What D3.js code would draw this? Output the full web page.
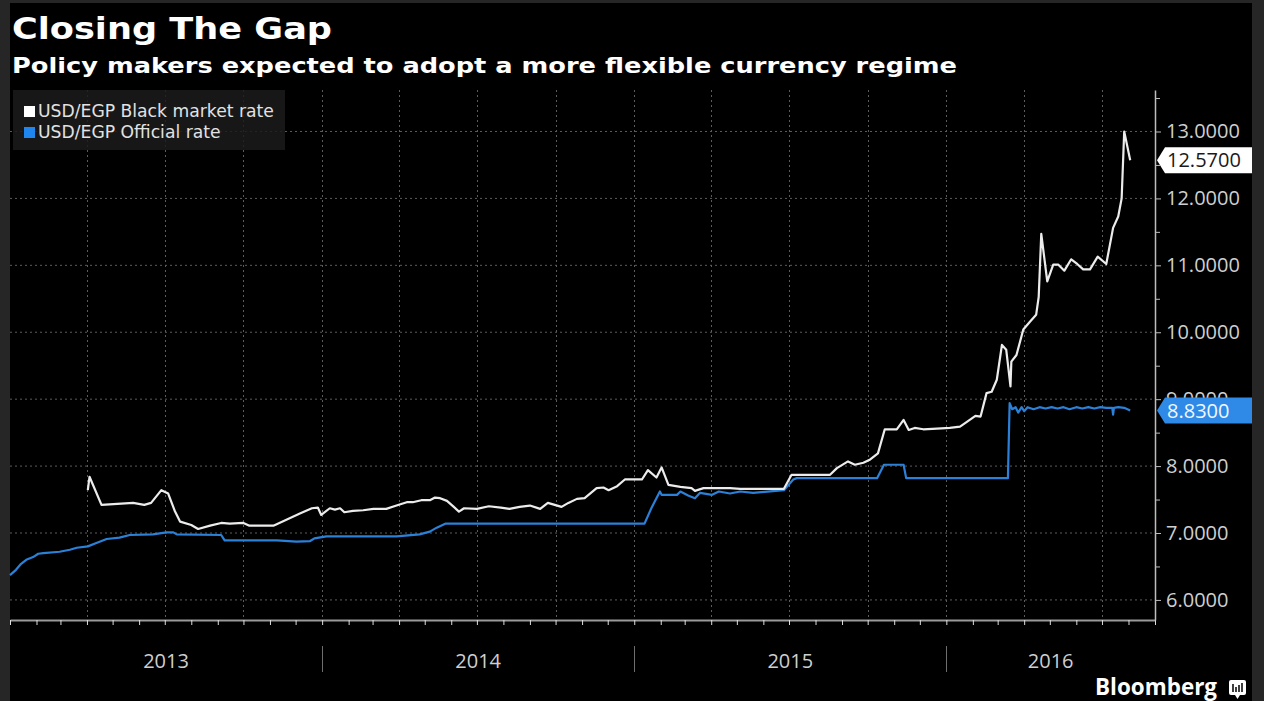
<!DOCTYPE html>
<html>
<head>
<meta charset="utf-8">
<script src="https://cdn.jsdelivr.net/npm/d3@7"></script>
<style>
  html, body { margin: 0; padding: 0; background: #262626; }
  svg { display: block; }
</style>
</head>
<body>
<svg id="chart" width="1264" height="701"></svg>
<script>
// ---------------- DATA ----------------
const blackDates = ["2013-04-02","2013-04-04","2013-04-18","2013-05-25","2013-06-07","2013-06-15","2013-06-27","2013-07-05","2013-07-13","2013-07-19","2013-08-01","2013-08-09","2013-08-23","2013-09-05","2013-09-15","2013-10-01","2013-10-08","2013-11-05","2013-11-12","2013-12-06","2013-12-20","2013-12-27","2013-12-31","2014-01-10","2014-01-16","2014-01-22","2014-01-27","2014-02-06","2014-02-18","2014-03-02","2014-03-17","2014-03-29","2014-04-10","2014-04-17","2014-04-27","2014-05-07","2014-05-13","2014-05-19","2014-05-27","2014-06-04","2014-06-10","2014-06-16","2014-07-01","2014-07-15","2014-07-29","2014-08-08","2014-08-20","2014-09-01","2014-09-13","2014-09-22","2014-09-30","2014-10-08","2014-10-16","2014-10-26","2014-11-04","2014-11-18","2014-11-26","2014-12-02","2014-12-12","2014-12-21","2015-01-10","2015-01-17","2015-01-27","2015-02-02","2015-02-10","2015-02-24","2015-03-09","2015-03-13","2015-03-23","2015-04-23","2015-05-05","2015-06-25","2015-07-04","2015-08-18","2015-08-26","2015-09-08","2015-09-16","2015-09-26","2015-10-04","2015-10-13","2015-10-21","2015-11-04","2015-11-12","2015-11-18","2015-11-25","2015-12-05","2015-12-21","2016-01-05","2016-01-17","2016-01-25","2016-02-04","2016-02-10","2016-02-17","2016-02-23","2016-02-29","2016-03-06","2016-03-11","2016-03-16","2016-03-17","2016-03-23","2016-03-31","2016-04-08","2016-04-15","2016-04-18","2016-04-21","2016-04-28","2016-05-05","2016-05-11","2016-05-18","2016-05-26","2016-06-02","2016-06-09","2016-06-17","2016-06-26","2016-07-06","2016-07-14","2016-07-20","2016-07-24","2016-07-27","2016-08-03"];
const blackValues = [7.64,7.84,7.42,7.45,7.42,7.45,7.64,7.59,7.32,7.17,7.12,7.06,7.11,7.15,7.14,7.15,7.11,7.11,7.15,7.29,7.37,7.38,7.27,7.37,7.35,7.37,7.31,7.33,7.34,7.36,7.36,7.41,7.46,7.46,7.49,7.49,7.53,7.52,7.48,7.39,7.32,7.37,7.36,7.40,7.38,7.36,7.39,7.41,7.36,7.45,7.42,7.39,7.45,7.51,7.52,7.67,7.68,7.64,7.70,7.80,7.80,7.94,7.83,7.98,7.72,7.69,7.67,7.63,7.67,7.67,7.66,7.66,7.87,7.87,7.97,8.07,8.02,8.05,8.10,8.19,8.55,8.55,8.69,8.54,8.57,8.55,8.56,8.57,8.59,8.66,8.75,8.74,9.09,9.11,9.29,9.81,9.74,9.19,9.56,9.66,10.04,10.16,10.26,10.53,11.47,10.76,11.01,11.01,10.92,11.09,11.02,10.94,10.94,11.13,11.02,11.56,11.73,12.00,13.00,12.57];

const officialDates = ["2013-01-01","2013-01-08","2013-01-14","2013-01-20","2013-01-28","2013-02-03","2013-02-09","2013-02-28","2013-03-12","2013-03-20","2013-04-02","2013-04-12","2013-04-24","2013-05-09","2013-05-21","2013-06-17","2013-07-03","2013-07-11","2013-07-15","2013-09-05","2013-09-09","2013-11-09","2013-12-02","2013-12-18","2013-12-23","2014-01-06","2014-03-29","2014-04-25","2014-05-07","2014-05-15","2014-05-25","2015-01-13","2015-01-21","2015-01-31","2015-02-02","2015-02-20","2015-02-24","2015-03-05","2015-03-13","2015-03-19","2015-04-02","2015-04-10","2015-04-23","2015-05-05","2015-05-20","2015-06-25","2015-07-06","2015-07-10","2015-10-12","2015-10-20","2015-11-12","2015-11-15","2016-03-13","2016-03-15","2016-03-18","2016-03-22","2016-03-25","2016-03-29","2016-04-01","2016-04-05","2016-04-12","2016-04-19","2016-04-26","2016-05-03","2016-05-10","2016-05-17","2016-05-24","2016-06-01","2016-06-08","2016-06-15","2016-06-22","2016-06-29","2016-07-06","2016-07-13","2016-07-14","2016-07-15","2016-07-20","2016-07-27","2016-08-03"];
const officialValues = [6.37,6.45,6.54,6.60,6.64,6.69,6.70,6.72,6.75,6.78,6.80,6.85,6.91,6.93,6.97,6.98,7.01,7.01,6.98,6.97,6.89,6.89,6.87,6.88,6.92,6.95,6.95,6.98,7.02,7.08,7.14,7.14,7.37,7.62,7.57,7.57,7.62,7.56,7.52,7.60,7.57,7.62,7.59,7.62,7.60,7.64,7.80,7.82,7.82,8.02,8.02,7.82,7.82,8.94,8.85,8.88,8.80,8.88,8.82,8.88,8.85,8.88,8.86,8.88,8.86,8.88,8.85,8.88,8.86,8.88,8.86,8.88,8.87,8.87,8.77,8.87,8.88,8.87,8.83];

const seriesNames = ["USD/EGP Black market rate", "USD/EGP Official rate"];
const yTickValues = [6, 7, 8, 9, 10, 11, 12, 13];
const yMinorTickValues = [6.5, 7.5, 8.5, 9.5, 10.5, 11.5, 12.5, 13.5];
const yearLabels = ["2013", "2014", "2015", "2016"];
const lastLabels = ["12.5700", "8.8300"];
const titleText = "Closing The Gap";
const subtitleText = "Policy makers expected to adopt a more flexible currency regime";

// ---------------- SETUP ----------------
const svg = d3.select("#chart");
const W = 1264, H = 701;
const parse = d3.timeParse("%Y-%m-%d");
const black = blackDates.map((d, i) => ({ date: parse(d), value: blackValues[i] }));
const official = officialDates.map((d, i) => ({ date: parse(d), value: officialValues[i] }));

const plotL = 10, plotR = 1155, plotT = 90, plotB = 620;
const x = d3.scaleTime()
  .domain([new Date(2013, 0, 1), new Date(2016, 8, 1)])
  .range([plotL, plotR]);
const y = d3.scaleLinear().domain([5.7, 13.62]).range([plotB, plotT]);

const COL_WHITE = "#ececec";
const COL_BLUE = "#2b80d8";
const GRID = "#5c5c5c";
const LABEL = "#cfcfcf";

// background panel
svg.append("rect").attr("x", 0).attr("y", 0).attr("width", W).attr("height", H).attr("fill", "#262626");
svg.append("rect").attr("x", 10).attr("y", 3).attr("width", 1242).attr("height", H - 3).attr("fill", "#000");

// ---------------- GRID ----------------
const grid = svg.append("g");
grid.selectAll("line.h").data(yTickValues).join("line")
  .attr("x1", plotL).attr("x2", plotR)
  .attr("y1", d => y(d)).attr("y2", d => y(d))
  .attr("stroke", GRID).attr("stroke-width", 1).attr("stroke-dasharray", "2,3");
const quarters = d3.timeMonth.every(3).range(new Date(2013, 3, 1), x.domain()[1]);
grid.selectAll("line.v").data(quarters).join("line")
  .attr("x1", d => Math.round(x(d)) + 0.5).attr("x2", d => Math.round(x(d)) + 0.5)
  .attr("y1", plotT).attr("y2", plotB)
  .attr("stroke", GRID).attr("stroke-width", 1).attr("stroke-dasharray", "2,3");

// ---------------- LEGEND ----------------
const lg = svg.append("g");
lg.append("rect").attr("x", 13).attr("y", 90).attr("width", 272).attr("height", 60)
  .attr("fill", "#1b1b1b").attr("opacity", 0.85);
seriesNames.forEach((n, i) => {
  lg.append("rect").attr("x", 24).attr("y", 106 + i * 21).attr("width", 11).attr("height", 11)
    .attr("fill", i === 0 ? "#ffffff" : "#1f86f0");
  lg.append("text").attr("x", 38).attr("y", 117 + i * 21)
    .attr("font-family", "DejaVu Sans").attr("font-size", 17.2).attr("fill", "#e2e2e2")
    .text(n);
});

// ---------------- LINES ----------------
const line = d3.line().x(d => x(d.date)).y(d => y(d.value));
svg.append("path").datum(official).attr("d", line)
  .attr("fill", "none").attr("stroke", COL_BLUE).attr("stroke-width", 2.2).attr("stroke-linejoin", "round");
svg.append("path").datum(black).attr("d", line)
  .attr("fill", "none").attr("stroke", COL_WHITE).attr("stroke-width", 2.2).attr("stroke-linejoin", "round");

// ---------------- X AXIS ----------------
const xAxis = d3.axisBottom(x).ticks(d3.timeMonth.every(1)).tickSize(5).tickSizeOuter(0).tickFormat("");
const gx = svg.append("g").attr("transform", `translate(0,${plotB})`).call(xAxis);
gx.select(".domain").attr("stroke", "#9a9a9a").attr("stroke-width", 2);
gx.selectAll(".tick line").attr("stroke", "#dddddd").attr("stroke-width", 1);

const yearStarts = yearLabels.map(yr => new Date(+yr, 0, 1));
yearLabels.forEach((yr, i) => {
  const s = Math.max(x(yearStarts[i]), plotL);
  const e = i < yearLabels.length - 1 ? x(yearStarts[i + 1]) : plotR;
  svg.append("text").attr("x", (s + e) / 2).attr("y", 668)
    .attr("text-anchor", "middle").attr("font-family", "Open Sans").attr("font-size", 20)
    .attr("fill", LABEL).text(yr);
  if (i > 0) {
    svg.append("line").attr("x1", Math.round(x(yearStarts[i])) + 0.5).attr("x2", Math.round(x(yearStarts[i])) + 0.5)
      .attr("y1", 646).attr("y2", 672).attr("stroke", "#6e6e6e").attr("stroke-width", 1);
  }
});

// ---------------- Y AXIS (right) ----------------
const yAxis = d3.axisRight(y).tickValues(yTickValues).tickSize(6).tickSizeOuter(0)
  .tickPadding(5).tickFormat(d3.format(".4f"));
const gy = svg.append("g").attr("transform", `translate(${plotR},0)`).call(yAxis);
gy.select(".domain").attr("stroke", "#bdbdbd").attr("stroke-width", 1.5);
gy.selectAll(".tick line").attr("stroke", "#bdbdbd");
gy.selectAll(".tick text").attr("font-family", "Open Sans").attr("font-size", 20).attr("fill", LABEL);
const yMinor = d3.axisRight(y).tickValues(yMinorTickValues).tickSize(5).tickSizeOuter(0).tickFormat("");
const gym = svg.append("g").attr("transform", `translate(${plotR},0)`).call(yMinor);
gym.select(".domain").remove();
gym.selectAll(".tick line").attr("stroke", "#bdbdbd");

// ---------------- LAST VALUE LABELS ----------------
const lastVals = [blackValues[blackValues.length - 1], officialValues[officialValues.length - 1]];
const lblFill = ["#ffffff", "#2e8ae6"];
const lblText = ["#1a1a1a", "#f2f7ff"];
lastVals.forEach((v, i) => {
  const cy = y(v);
  const x0 = plotR + 2, x1 = plotR + 10, x2 = 1252, h = 13;
  svg.append("path")
    .attr("d", `M${x0},${cy} L${x1},${cy - h} L${x2},${cy - h} L${x2},${cy + h} L${x1},${cy + h} Z`)
    .attr("fill", lblFill[i]);
  svg.append("text").attr("x", plotR + 12).attr("y", cy + 7)
    .attr("font-family", "Open Sans").attr("font-size", 20).attr("fill", lblText[i])
    .text(lastLabels[i]);
});

// ---------------- TITLES ----------------
svg.append("text").attr("x", 12).attr("y", 39)
  .attr("font-family", "DejaVu Sans").attr("font-weight", "bold").attr("font-size", 31)
  .attr("fill", "#ffffff").attr("textLength", 320).attr("lengthAdjust", "spacingAndGlyphs")
  .text(titleText);
svg.append("text").attr("x", 12).attr("y", 73)
  .attr("font-family", "DejaVu Sans").attr("font-weight", "bold").attr("font-size", 22)
  .attr("fill", "#ffffff").attr("textLength", 945).attr("lengthAdjust", "spacingAndGlyphs")
  .text(subtitleText);

// ---------------- BRANDING ----------------
svg.append("text").attr("x", 1095).attr("y", 695)
  .attr("font-family", "Open Sans").attr("font-weight", "bold").attr("font-size", 23)
  .attr("fill", "#ffffff").attr("textLength", 122).attr("lengthAdjust", "spacingAndGlyphs")
  .text("Bloomberg");
const icon = svg.append("g").attr("transform", "translate(1229,680)");
icon.append("rect").attr("x", 0).attr("y", 0).attr("width", 17).attr("height", 15).attr("rx", 2).attr("fill", "#ffffff");
icon.append("path").attr("d", "M6,15 L8.5,19 L11,15 Z").attr("fill", "#ffffff");
[[4, 8], [7, 5], [10, 7], [13, 9]].forEach(([bx, bh]) => {
  icon.append("rect").attr("x", bx - 0.75).attr("y", 12 - bh).attr("width", 1.5).attr("height", bh).attr("fill", "#000");
});
</script>
</body>
</html>
